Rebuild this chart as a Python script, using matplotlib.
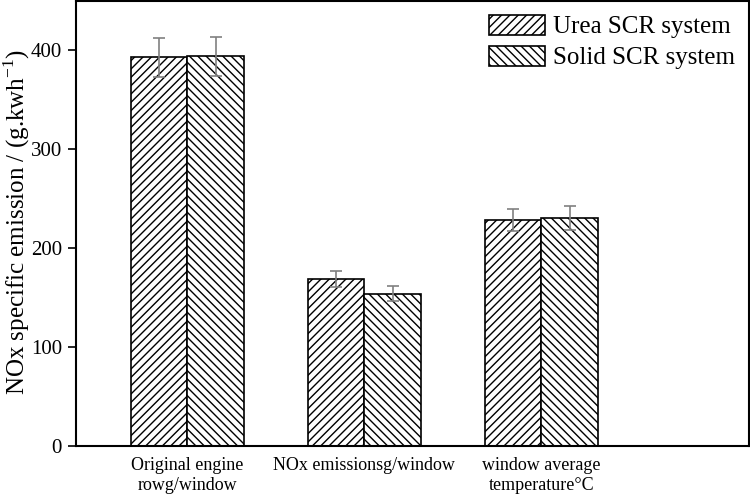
import numpy as np
import matplotlib.pyplot as plt

plt.rcParams['font.family'] = ['Liberation Serif', 'DejaVu Serif']
plt.rcParams['mathtext.fontset'] = 'custom'
plt.rcParams['mathtext.rm'] = 'Liberation Serif'
plt.rcParams['hatch.linewidth'] = 1.0

categories = ['Original engine\nrowg/window', 'NOx emissionsg/window',
              'window average\ntemperature\u00b0C']
urea = [393, 169, 229]
urea_err = [20, 8, 11]
solid = [394, 154, 231]
solid_err = [20, 7.5, 12]

fig = plt.figure(figsize=(7.5, 4.98), dpi=100)
ax = fig.add_axes([0.101, 0.104, 0.897, 0.894])

x = np.arange(len(categories))
w = 0.32
ax.bar(x - w / 2, urea, w, facecolor='white', edgecolor='black', linewidth=1.2,
       hatch='////', label='Urea SCR system')
ax.bar(x + w / 2, solid, w, facecolor='white', edgecolor='black', linewidth=1.2,
       hatch='\\\\\\\\', label='Solid SCR system')
ax.errorbar(x - w / 2, urea, yerr=urea_err, fmt='none', ecolor='#808080',
            elinewidth=1.2, capsize=4, capthick=1.2)
ax.errorbar(x + w / 2, solid, yerr=solid_err, fmt='none', ecolor='#808080',
            elinewidth=1.2, capsize=4, capthick=1.2)

ax.set_xlim(-0.63, 3.17)
ax.set_ylim(0, 450)
ax.set_yticks([0, 100, 200, 300, 400])
ax.set_xticks(x)
ax.set_xticklabels(categories, fontsize=13)
ax.tick_params(axis='y', labelsize=15, direction='out', length=6, width=1.2, pad=4)
ax.tick_params(axis='x', length=0, pad=8)
ax.set_ylabel('NOx specific emission / (g.kwh$^{\\mathregular{-1}}$)', fontsize=18)
ax.yaxis.label.set_va('center')
ax.yaxis.set_label_coords(-59 / 673, 0.503)
for s in ax.spines.values():
    s.set_linewidth(1.5)

ax.legend(loc='upper right', frameon=False, fontsize=18, handlelength=2.25,
          handleheight=0.85, labelspacing=0.3, handletextpad=0.3,
          borderaxespad=0.15)

fig.savefig('out.png')
